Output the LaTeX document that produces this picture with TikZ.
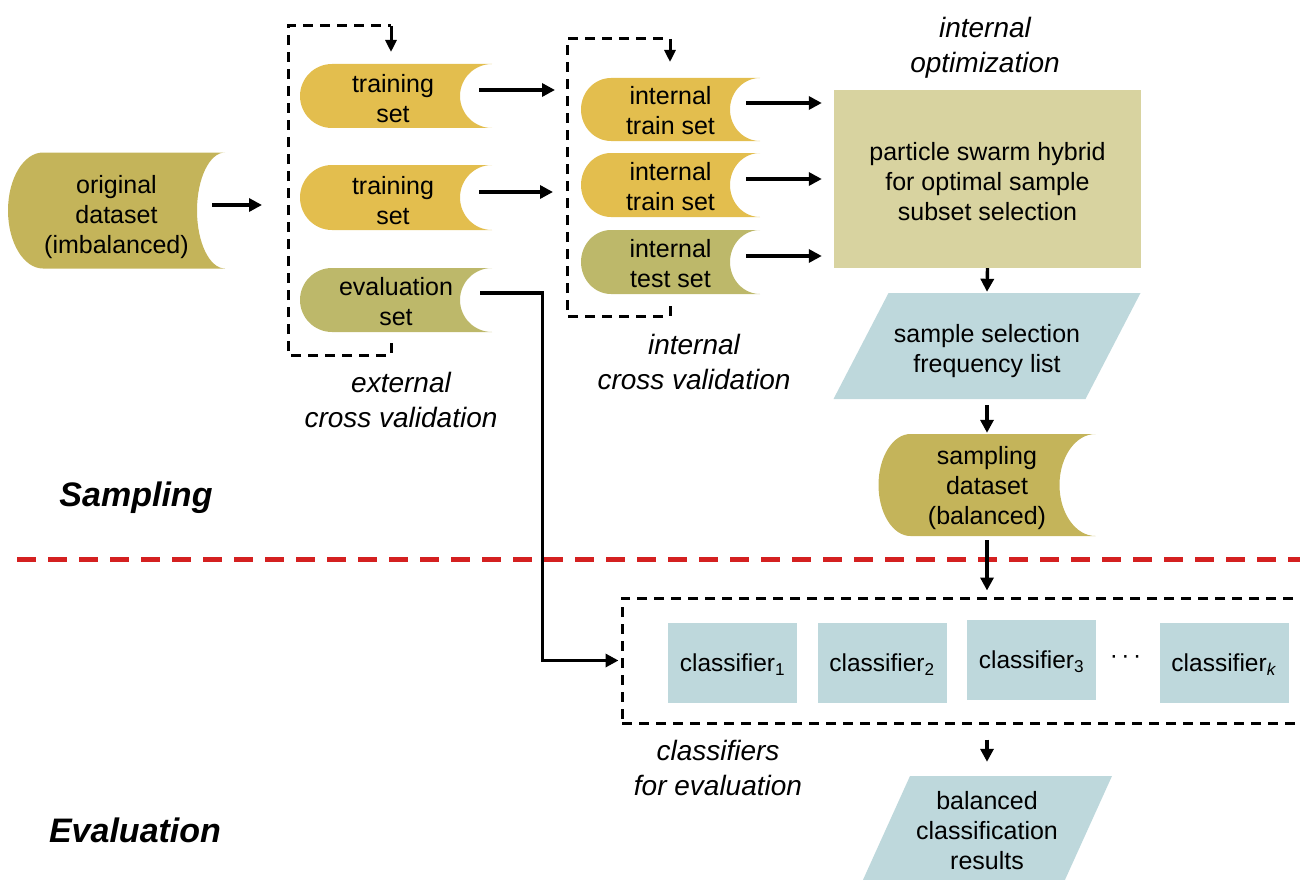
\documentclass[tikz,border=0pt]{standalone}
\usepackage{fontspec}
\setmainfont{Liberation Sans}
\usetikzlibrary{arrows.meta,calc}
\definecolor{origc}{HTML}{C4B45A}
\definecolor{trainc}{HTML}{E3BE4E}
\definecolor{evalc}{HTML}{BDB86A}
\definecolor{psoc}{HTML}{D8D3A0}
\definecolor{bluec}{HTML}{BED8DC}
\definecolor{redc}{HTML}{D42020}
\newcommand{\lns}[2][5pt]{\raisebox{-#1}[\height][\depth]{\begin{tabular}{@{}c@{}}#2\end{tabular}}}
\tikzset{
  txt/.style={font=\fontsize{25}{30}\selectfont, inner sep=0pt},
  lab/.style={font=\fontsize{28}{35.5}\selectfont\itshape, align=center, inner sep=0pt},
  sec/.style={font=\fontsize{34}{40}\selectfont\bfseries\itshape, inner sep=0pt},
  storage/.style n args={5}{txt, minimum width=#2, minimum height=#3, path picture={
    \fill[#1] ([xshift=#4]path picture bounding box.north west) -- (path picture bounding box.north east)
      .. controls ([xshift={-0.552*#5}]path picture bounding box.north east) and ([xshift={-#5},yshift={0.276*#3}]path picture bounding box.east)
      .. ([xshift={-#5}]path picture bounding box.east)
      .. controls ([xshift={-#5},yshift={-0.276*#3}]path picture bounding box.east) and ([xshift={-0.552*#5}]path picture bounding box.south east)
      .. (path picture bounding box.south east) -- ([xshift=#4]path picture bounding box.south west)
      .. controls ([xshift={0.448*#4}]path picture bounding box.south west) and ([yshift={-0.276*#3}]path picture bounding box.west)
      .. (path picture bounding box.west)
      .. controls ([yshift={0.276*#3}]path picture bounding box.west) and ([xshift={0.448*#4}]path picture bounding box.north west)
      .. ([xshift=#4]path picture bounding box.north west) -- cycle;}},
  para/.style n args={4}{txt, minimum width=#2, minimum height=#3, path picture={
    \fill[#1] ([xshift=#4]path picture bounding box.north west) -- (path picture bounding box.north east)
      -- ([xshift=-#4]path picture bounding box.south east) -- (path picture bounding box.south west) -- cycle;}},
  clsbox/.style={fill=bluec, minimum width=129pt, minimum height=80pt, inner sep=0pt, font=\fontsize{24.5}{29}\selectfont},
  arr/.style={line width=3.4pt, -{Triangle[length=13pt,width=13pt]}},
  sarr/.style={line width=3pt, -{Triangle[length=12pt,width=11pt]}},
  dashln/.style={line width=3pt, dash pattern=on 10pt off 7pt, line cap=butt, miter limit=10},
  reddash/.style={line width=5pt, draw=redc, dash pattern=on 19pt off 12pt, line cap=butt},
}
\newcommand{\clsf}[1]{\raisebox{-1.5pt}[\height][\depth]{classifier\textsubscript{#1}}}
\begin{document}
\begin{tikzpicture}[x=1pt,y=-1pt]
\useasboundingbox (0,0) rectangle (1300,880);

% red separator
\coordinate (redL) at (17,559);
\coordinate (redR) at (1300,559);
\draw[reddash] (redL) -- (redR);

% storage nodes
\node[storage={origc}{217pt}{116pt}{35pt}{28pt}] (orig) at (116.5,210.5) {\lns[7pt]{original\\dataset\\(imbalanced)}};
\node[storage={trainc}{192pt}{64pt}{32pt}{32pt}] (ts1) at (396,96) {\hspace*{-6pt}\lns[6pt]{training\\set}};
\node[storage={trainc}{192pt}{65pt}{32pt}{32pt}] (ts2) at (396,197.5) {\hspace*{-6pt}\lns[6pt]{training\\set}};
\node[storage={evalc}{192pt}{64pt}{32pt}{32pt}] (ev) at (396,300) {\lns[4pt]{evaluation\\set}};
\node[storage={trainc}{179pt}{63pt}{30pt}{30pt}] (it1) at (670.5,109.5) {\lns[4pt]{internal\\train set}};
\node[storage={trainc}{179pt}{64pt}{30pt}{30pt}] (it2) at (670.5,185) {\lns[4pt]{internal\\train set}};
\node[storage={evalc}{179pt}{64pt}{30pt}{30pt}] (it3) at (670.5,262) {\lns[4pt]{internal\\test set}};
\node[storage={origc}{217pt}{102pt}{32pt}{36pt}] (samp) at (987,485) {\lns[3pt]{sampling\\dataset\\(balanced)}};

% PSO box
\node[txt, fill=psoc, minimum width=307pt, minimum height=178pt] (pso) at (987.5,179) {\lns[5pt]{particle swarm hybrid\\for optimal sample\\subset selection}};

% parallelograms
\node[para={bluec}{307pt}{106pt}{55pt}] (ssf) at (987,346) {\lns[5pt]{sample selection\\frequency list}};
\node[para={bluec}{250pt}{106pt}{48pt}] (bal) at (987,829) {\lns[4.5pt]{balanced\\classification\\results}};

% classifiers
\node[draw, dashln, minimum width=698pt, minimum height=125pt, inner sep=0pt] (cbox) at (971,660.5) {};
\node[clsbox] (c1) at (732.5,663) {\clsf{1}};
\node[clsbox] (c2) at (882,663) {\clsf{2}};
\node[clsbox] (c3) at (1031.5,660) {\clsf{3}};
\node[font=\fontsize{24.5}{29}\selectfont, inner sep=0pt] (dots) at (1125.5,660) {·\hspace{3.5pt}·\hspace{3.5pt}·};
\node[clsbox] (ck) at (1224,663) {\clsf{\textit{k}}};

% labels
\node[lab] (iopt) at (985,48) {internal\\optimization};
\node[lab] (ecv) at (401,400) {external\\cross validation};
\node[lab] (icv) at (694,362) {internal\\cross validation};
\node[lab] (cfe) at (718,768) {classifiers\\for evaluation};
\node[sec] (samplab) at (136,498) {Sampling};
\node[sec] (evlab) at (135,830) {Evaluation};

% external CV loop
\coordinate (eloopTL) at (288,26);
\coordinate (eloopBR) at (391,355);
\draw[dashln] ($(eloopBR)+(0,-12)$) -- (eloopBR) -| (eloopTL) -- (eloopBR |- eloopTL);
\draw[sarr] (eloopBR |- eloopTL) -- ($(eloopBR |- eloopTL)+(0,26)$);

% internal CV loop
\coordinate (iloopTL) at (567,39);
\coordinate (iloopBR) at (670,316);
\draw[dashln] ($(iloopBR)+(0,-10)$) -- (iloopBR) -| (iloopTL) -- (iloopBR |- iloopTL);
\draw[sarr] (iloopBR |- iloopTL) -- ($(iloopBR |- iloopTL)+(0,23)$);

% connectors
\coordinate (extin) at (262,205);
\draw[arr] ($(orig.east)+(-13,-5.5)$) -- (extin);
\draw[arr] ($(ts1.east)+(-13,-6)$) -- ($(ts1.east -| iloopTL)+(-12,-6)$);
\draw[arr] ($(ts2.east)+(-13,-5.5)$) -- ($(ts2.east -| iloopTL)+(-14,-5.5)$);
\draw[arr] ($(ev.east)+(-12,-7)$) -- ($(ev.east)+(50,-7)$) |- ($(cbox.west)+(-2,0)$);
\draw[arr] ($(it1.east)+(-14,-6.5)$) -- ($(it1.east -| pso.west)+(-12,-6.5)$);
\draw[arr] ($(it2.east)+(-14,-6)$) -- ($(it2.east -| pso.west)+(-12,-6)$);
\draw[arr] ($(it3.east)+(-14,-6)$) -- ($(it3.east -| pso.west)+(-12,-6)$);
\draw[arr] (pso.south) -- ($(ssf.north)+(0,-1)$);
\draw[arr] ($(ssf.south)+(0,6)$) -- ($(samp.north)+(0,-1)$);
\draw[arr] ($(samp.south)+(0,4)$) -- ($(samp.south |- cbox.north)+(0,-6)$);
\draw[arr] ($(cbox.south -| bal.north)+(0,15)$) -- ($(bal.north)+(0,-14)$);
\end{tikzpicture}
\end{document}
